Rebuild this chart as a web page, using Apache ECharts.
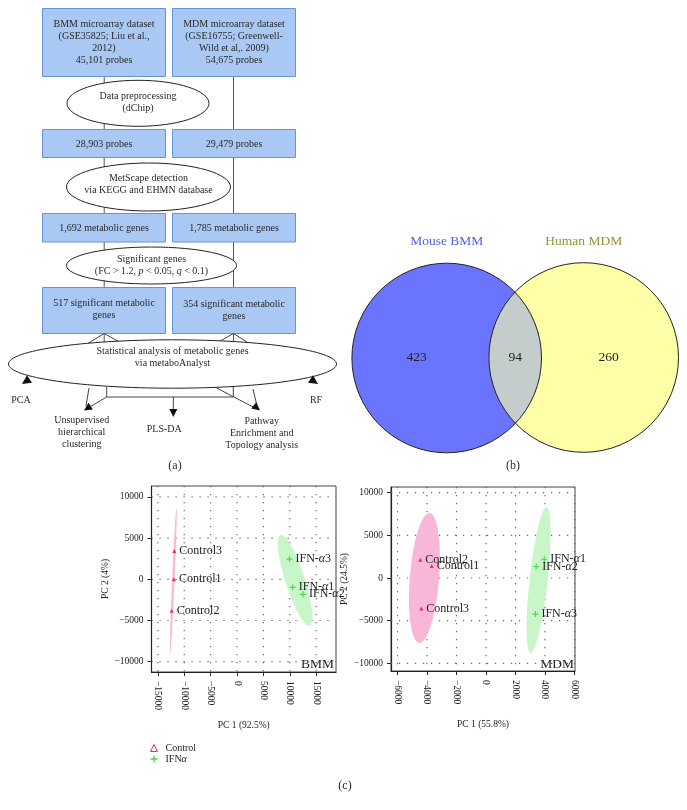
<!DOCTYPE html>
<html><head><meta charset="utf-8">
<script src="https://cdn.jsdelivr.net/npm/echarts@6/dist/echarts.min.js"></script>
<style>html,body{margin:0;padding:0;background:#fff}#c{width:687px;height:810px}</style>
</head><body><div id="c"></div>
<script>
// ================= DATA =================
// (a) flowchart texts
const flowTopBoxes = [["BMM microarray dataset","(GSE35825; Liu et al.,","2012)","45,101 probes"],
                      ["MDM microarray dataset","(GSE16755; Greenwell-","Wild et al,. 2009)","54,675 probes"]];
const flowStep1 = ["Data preprocessing","(dChip)"];
const flowProbes = ["28,903 probes","29,479 probes"];
const flowStep2 = ["MetScape detection","via KEGG and EHMN database"];
const flowMetab = ["1,692 metabolic genes","1,785 metabolic genes"];
const flowStep3 = ["Significant genes","(FC > 1.2, {i|p} < 0.05, {i|q} < 0.1)"];
const flowSig = [["517 significant metabolic","genes"],["354 significant metabolic","genes"]];
const flowStep4 = ["Statistical analysis of metabolic genes","via metaboAnalyst"];
const flowOutputs = ["PCA","Unsupervised\nhierarchical\nclustering","PLS-DA","Pathway\nEnrichment and\nTopology analysis","RF"];
const panelLabels = ["(a)","(b)","(c)"];

// (b) Venn
const vennSets = ["Mouse BMM","Human MDM"];
const vennCounts = [423, 94, 260];   // BMM only, shared, MDM only

// (c) PCA scores
const bmmControlNames = ["Control1","Control2","Control3"];
const bmmControlPC1 = [-11950, -12370, -11880];
const bmmControlPC2 = [0, -3820, 3420];
const bmmIfnNames = ["IFN-α1","IFN-α2","IFN-α3"];
const bmmIfnPC1 = [10550, 12500, 9940];
const bmmIfnPC2 = [-970, -1820, 2450];

const mdmControlNames = ["Control1","Control2","Control3"];
const mdmControlPC1 = [-3681, -4454, -4386];
const mdmControlPC2 = [1412, 2153, -3565];
const mdmIfnNames = ["IFN-α1","IFN-α2","IFN-α3"];
const mdmIfnPC1 = [3950, 3400, 3350];
const mdmIfnPC2 = [2200, 1350, -4230];

const bmmXTicks = [-15000,-10000,-5000,0,5000,10000,15000];
const bmmYTicks = [-10000,-5000,0,5000,10000];
const mdmXTicks = [-6000,-4000,-2000,0,2000,4000,6000];
const mdmYTicks = [-10000,-5000,0,5000,10000];
const pcaXNames = ["PC 1 (92.5%)","PC 1 (55.8%)"];
const pcaYNames = ["PC 2 (4%)","PC 2 (24.5%)"];
const pcaTitles = ["BMM","MDM"];
const groupNames = ["Control","IFNα"];

// ================= STYLE / LAYOUT =================
const SERIF = '"Liberation Serif","DejaVu Serif",serif';
const RED = '#e8334a', GREEN = '#4ed84e';
const PINK = '#f8b6d9', LGREEN = '#c8f6c8';
const PLUS = 'path://M4,0L6,0L6,4L10,4L10,6L6,6L6,10L4,10L4,6L0,6L0,4L4,4Z';

const els = [];
function poly(pts, color, w){ els.push({type:'polyline', silent:true, shape:{points:pts}, style:{stroke:color||'#555', lineWidth:w||1, fill:null}}); }
function box(x,y,w,h){ els.push({type:'rect', silent:true, shape:{x:x,y:y,width:w,height:h}, style:{fill:'#a9c8f3', stroke:'#6393dd', lineWidth:1}}); }
function ell(cx,cy,rx,ry){ els.push({type:'ellipse', silent:true, shape:{cx:cx,cy:cy,rx:rx,ry:ry}, style:{fill:'#fff', stroke:'#222', lineWidth:1}}); }
function txt(x,y,text,size,extra){
  els.push({type:'text', silent:true, x:x, y:y, style:Object.assign({text:text, fontFamily:SERIF, fontSize:size||10, fill:'#2a2a2a',
    align:'center', verticalAlign:'middle', textAlign:'center', textVerticalAlign:'middle', lineHeight:12}, extra||{})});
}
function arrowHead(x1,y1,x2,y2,len,wid){
  const a = Math.atan2(y2-y1, x2-x1);
  const bx = x2 - len*Math.cos(a), by = y2 - len*Math.sin(a);
  const nx = -Math.sin(a)*wid/2, ny = Math.cos(a)*wid/2;
  els.push({type:'polygon', silent:true, shape:{points:[[x2,y2],[bx+nx,by+ny],[bx-nx,by-ny]]}, style:{fill:'#111'}});
}

// ---- flowchart (a) ----
const LX = 42.5, RX = 172.5, BW = 123, LC = 104.2, RC = 233.5;
poly([[LC,76],[LC,345]]); poly([[RC,76],[RC,345]]);
box(LX,8.5,BW,68); box(RX,8.5,BW,68);
txt(LX+BW/2, 42.5, flowTopBoxes[0].join('\n')); txt(RX+BW/2, 42.5, flowTopBoxes[1].join('\n'));
ell(138,103.3,71,23); txt(138,102.5, flowStep1.join('\n'));
box(LX,129.5,BW,28); box(RX,129.5,BW,28);
txt(LX+BW/2,144, flowProbes[0]); txt(RX+BW/2,144, flowProbes[1]);
ell(148.5,187,82,24); txt(148.5,184, flowStep2.join('\n'));
box(LX,213.5,BW,28.5); box(RX,213.5,BW,28.5);
txt(LX+BW/2,228, flowMetab[0]); txt(RX+BW/2,228, flowMetab[1]);
ell(151.5,265.5,85,18.5);
txt(151.5,265, flowStep3.join('\n'), 10, {rich:{i:{fontStyle:'italic', fontFamily:SERIF, fontSize:10, fill:'#2a2a2a'}}});
box(LX,287.5,BW,46); box(RX,287.5,BW,46);
txt(LX+BW/2,309.5, flowSig[0].join('\n')); txt(RX+BW/2,310.5, flowSig[1].join('\n'));
poly([[87,344],[LC,333.5],[123,344]], '#444'); poly([[215,344],[RC,333.5],[250,344]], '#444');
ell(172.5,364,164,24.2);
txt(172.5,357, flowStep4.join('\n'));
// outputs connectors
poly([[106.7,387],[106.7,397],[233.3,397],[233.3,387]], '#444');
poly([[173.3,397],[173.3,410]], '#444'); arrowHead(173.3,405,173.3,417,8,8);
poly([[89,388],[86,406]], '#444'); poly([[106.7,397],[88,408]], '#444'); arrowHead(97,402,84,410.5,8,8);
poly([[216.7,388],[255,408]], '#444'); poly([[253,389],[257,406]], '#444'); arrowHead(247,400,260,410.5,8,8);
arrowHead(37,374,22,384,9,9); arrowHead(303,374,318,384,9,9);
txt(21,400, flowOutputs[0]);
txt(81.7,432.2, flowOutputs[1]);
txt(164.3,429, flowOutputs[2]);
txt(261.7,433.5, flowOutputs[3]);
txt(316,400, flowOutputs[4]);
txt(175,466, panelLabels[0], 12);
txt(513,466, panelLabels[1], 12);
txt(345,786, panelLabels[2], 12);
// PCA panel titles
els.push({type:'text', silent:true, x:334, y:664, style:{text:pcaTitles[0], fontFamily:SERIF, fontSize:13.5, fill:'#222', align:'right', verticalAlign:'middle', textAlign:'right', textVerticalAlign:'middle'}});
els.push({type:'text', silent:true, x:574, y:664, style:{text:pcaTitles[1], fontFamily:SERIF, fontSize:13.5, fill:'#222', align:'right', verticalAlign:'middle', textAlign:'right', textVerticalAlign:'middle'}});

// ================= HELPERS =================
function fmt(v){ return v < 0 ? '\u2212' + Math.abs(v) : String(v); }
function richName(n){ return n.indexOf('α') >= 0 ? '{t|' + n.replace('α','}{g|α}{t|') + '}' : '{t|' + n + '}'; }
const labelRich = {t:{fontFamily:SERIF, fontSize:12, color:'#222'}, g:{fontFamily:SERIF, fontSize:12, fontStyle:'italic', color:'#222'}};

function ellipsePoints(xs, ys){
  const k = xs.length;
  const mx = xs.reduce((a,b)=>a+b,0)/k, my = ys.reduce((a,b)=>a+b,0)/k;
  let sxx=0, syy=0, sxy=0;
  for (let i=0;i<k;i++){ const dx=xs[i]-mx, dy=ys[i]-my; sxx+=dx*dx; syy+=dy*dy; sxy+=dx*dy; }
  sxx/=(k-1); syy/=(k-1); sxy/=(k-1);
  const tr = sxx+syy, det = sxx*syy - sxy*sxy;
  const disc = Math.sqrt(Math.max(tr*tr/4 - det, 0));
  const l1 = tr/2 + disc, l2 = Math.max(tr/2 - disc, 0);
  let v1 = Math.abs(sxy) > 1e-9 ? [l1 - syy, sxy] : (sxx >= syy ? [1,0] : [0,1]);
  const nrm = Math.hypot(v1[0], v1[1]); v1 = [v1[0]/nrm, v1[1]/nrm];
  const v2 = [-v1[1], v1[0]];
  const t = Math.sqrt(5.991464547); // 95% level, chi-square 2 df
  const a = t*Math.sqrt(l1), b = t*Math.sqrt(l2);
  const pts = [];
  for (let i=0;i<120;i++){
    const th = 2*Math.PI*i/120, c = Math.cos(th), s = Math.sin(th);
    pts.push([mx + a*c*v1[0] + b*s*v2[0], my + a*c*v1[1] + b*s*v2[1]]);
  }
  return pts;
}

function pairs(names, xs, ys){ return names.map((n,i)=>({name:n, value:[xs[i], ys[i]]})); }

function xAxisCfg(gi, min, max, ticks, name){
  return {type:'value', gridIndex:gi, min:min, max:max, name:name, nameLocation:'middle', nameGap:48,
    nameTextStyle:{fontFamily:SERIF, fontSize:9.5, color:'#222'},
    axisLine:{show:true, onZero:false, lineStyle:{color:'#222', width:1.2}},
    axisTick:{show:true, customValues:ticks, length:4, lineStyle:{color:'#222'}},
    axisLabel:{show:true, customValues:ticks, rotate:-90, margin:9, fontFamily:SERIF, fontSize:9.5, color:'#222', formatter:fmt},
    splitLine:{show:false}};
}
function yAxisCfg(gi, min, max, ticks, name, gap){
  return {type:'value', gridIndex:gi, min:min, max:max, name:name, nameLocation:'middle', nameGap:gap,
    nameTextStyle:{fontFamily:SERIF, fontSize:9.5, color:'#222'},
    axisLine:{show:true, onZero:false, lineStyle:{color:'#222', width:1.2}},
    axisTick:{show:true, customValues:ticks, length:4, lineStyle:{color:'#222'}},
    axisLabel:{show:true, customValues:ticks, margin:8, fontFamily:SERIF, fontSize:9.5, color:'#222', formatter:fmt},
    splitLine:{show:false}};
}
function gridLineSeries(gi, xt, yt){
  const data = xt.map(v=>[v, yt[0], 0]).concat(yt.map(v=>[xt[0], v, 1]));
  return {type:'custom', name:'grid'+gi, xAxisIndex:gi, yAxisIndex:gi, z:1, silent:true, data:data,
    renderItem:function(params, api){
      const cs = params.coordSys; const p = api.coord([api.value(0), api.value(1)]);
      const st = {stroke:'#666', lineWidth:1.2, lineDash:[1.2,6.8]};
      if (api.value(2) === 0) return {type:'line', shape:{x1:p[0], y1:cs.y, x2:p[0], y2:cs.y+cs.height}, style:st};
      return {type:'line', shape:{x1:cs.x, y1:p[1], x2:cs.x+cs.width, y2:p[1]}, style:st};
    }};
}
function ellipseSeries(gi, xs, ys, color){
  const pts = ellipsePoints(xs, ys);
  return {type:'custom', name:'ellipse', xAxisIndex:gi, yAxisIndex:gi, z:2, silent:true, data:[[xs[0], ys[0]]],
    renderItem:function(params, api){
      return {type:'polygon', shape:{points:pts.map(p=>api.coord(p))}, style:{fill:color, stroke:null}};
    }};
}
function scatterSeries(gi, name, data, symbol, size, color){
  return {type:'scatter', name:name, xAxisIndex:gi, yAxisIndex:gi, z:3, symbol:symbol, symbolSize:size,
    itemStyle:{color:color, opacity:1}, data:data,
    label:{show:true, position:'right', distance:3, formatter:p=>richName(p.name), rich:labelRich},
    emphasis:{disabled:true}};
}

// ================= VENN =================
const vennSeries = {type:'custom', name:'venn', coordinateSystem:'none', silent:true, z:2, data:[vennCounts],
  renderItem:function(params, api){
    const A = {x:446.7, y:358}, B = {x:583.7, y:357.5}, r = 94.8;
    const mx = (A.x+B.x)/2, cy = (A.y+B.y)/2, d = B.x - A.x, h = Math.sqrt(r*r - d*d/4);
    const lens = 'M'+mx+' '+(cy-h)+' A'+r+' '+r+' 0 0 1 '+mx+' '+(cy+h)+' A'+r+' '+r+' 0 0 1 '+mx+' '+(cy-h)+' Z';
    const tstyle = (t,x,y,size,col)=>({type:'text', x:x, y:y, style:{text:t, fontFamily:SERIF, fontSize:size, fill:col||'#222', align:'center', verticalAlign:'middle', textAlign:'center', textVerticalAlign:'middle'}});
    return {type:'group', children:[
      {type:'circle', shape:{cx:A.x, cy:A.y, r:r}, style:{fill:'#6a74fe'}},
      {type:'circle', shape:{cx:B.x, cy:B.y, r:r}, style:{fill:'#ffffa8'}},
      {type:'path', shape:{pathData:lens}, style:{fill:'#c4cdcb'}},
      {type:'circle', shape:{cx:A.x, cy:A.y, r:r}, style:{fill:null, stroke:'#222', lineWidth:1}},
      {type:'circle', shape:{cx:B.x, cy:B.y, r:r}, style:{fill:null, stroke:'#222', lineWidth:1}},
      tstyle(String(vennCounts[0]), A.x-30, cy, 13.5),
      tstyle(String(vennCounts[1]), mx, cy, 13.5),
      tstyle(String(vennCounts[2]), B.x+25, cy, 13.5),
      tstyle(vennSets[0], A.x, 241.7, 13.5, '#505fe6'),
      tstyle(vennSets[1], B.x, 241.7, 13.5, '#94943a')
    ]};
  }};

// ================= OPTION =================
const option = {
  animation:false,
  backgroundColor:'#fff',
  graphic:{elements:els},
  grid:[
    {left:151.5, top:486, width:184.5, height:186, show:true, borderColor:'#444', borderWidth:1, backgroundColor:'transparent'},
    {left:391, top:487, width:184, height:184, show:true, borderColor:'#444', borderWidth:1, backgroundColor:'transparent'}
  ],
  xAxis:[ xAxisCfg(0, -16200, 18750, bmmXTicks, pcaXNames[0]), xAxisCfg(1, -6440, 6034, mdmXTicks, pcaXNames[1]) ],
  yAxis:[ yAxisCfg(0, -11250, 11320, bmmYTicks, pcaYNames[0], 34), yAxisCfg(1, -10900, 10670, mdmYTicks, pcaYNames[1], 38) ],
  legend:{left:150, top:743, orient:'vertical', itemWidth:7, itemHeight:7, itemGap:1, selectedMode:false, padding:0,
    textStyle:{fontFamily:SERIF, fontSize:10, color:'#222', lineHeight:10, padding:[0,0,0,3],
      rich:{a:{fontFamily:SERIF, fontSize:10, color:'#222'}, b:{fontFamily:SERIF, fontSize:10, color:'#222', fontStyle:'italic'}}},
    formatter:n=> n.indexOf('α')>=0 ? '{a|'+n.replace('α','}{b|α}') : n,
    data:[{name:groupNames[0], icon:'triangle', itemStyle:{color:'#fff', borderColor:RED, borderWidth:1}},
          {name:groupNames[1], icon:PLUS, itemStyle:{color:GREEN}}]},
  series:[
    vennSeries,
    gridLineSeries(0, bmmXTicks, bmmYTicks),
    gridLineSeries(1, mdmXTicks, mdmYTicks),
    ellipseSeries(0, bmmControlPC1, bmmControlPC2, PINK),
    ellipseSeries(0, bmmIfnPC1, bmmIfnPC2, LGREEN),
    ellipseSeries(1, mdmControlPC1, mdmControlPC2, PINK),
    ellipseSeries(1, mdmIfnPC1, mdmIfnPC2, LGREEN),
    scatterSeries(0, groupNames[0], pairs(bmmControlNames, bmmControlPC1, bmmControlPC2), 'triangle', 4, RED),
    scatterSeries(0, groupNames[1], pairs(bmmIfnNames, bmmIfnPC1, bmmIfnPC2), PLUS, 6, GREEN),
    scatterSeries(1, groupNames[0], pairs(mdmControlNames, mdmControlPC1, mdmControlPC2), 'triangle', 4, RED),
    scatterSeries(1, groupNames[1], pairs(mdmIfnNames, mdmIfnPC1, mdmIfnPC2), PLUS, 6, GREEN)
  ]
};
const chart = echarts.init(document.getElementById('c'), null, {renderer:'canvas', width:687, height:810});
chart.setOption(option);
</script></body></html>
